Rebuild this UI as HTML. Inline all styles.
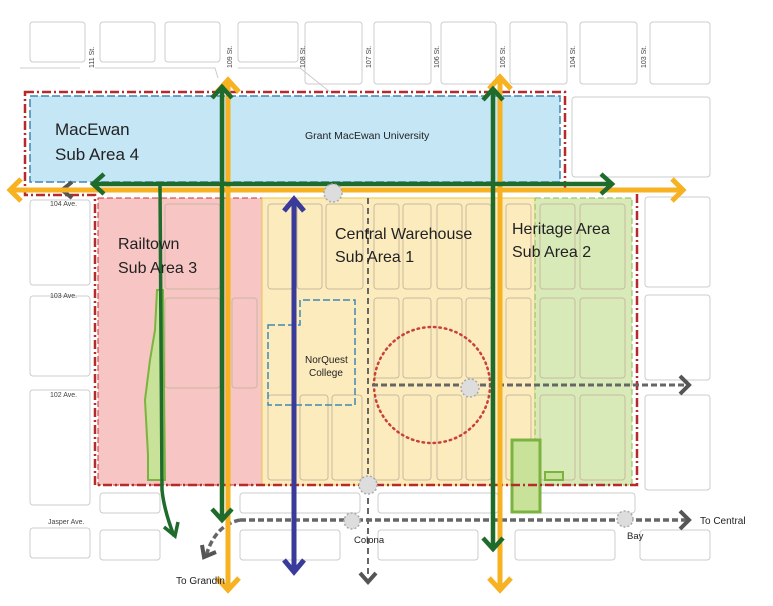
<!DOCTYPE html>
<html><head><meta charset="utf-8"><style>
html,body{margin:0;padding:0;background:#fff;}
svg{display:block;font-family:"Liberation Sans",sans-serif;}
</style></head><body>
<svg width="773" height="606" viewBox="0 0 773 606" xmlns="http://www.w3.org/2000/svg">
<g fill="none" stroke="#ccc" stroke-width="1">
<path d="M20,68 L80,68 M95,68 L215,68 L218,78 M238,68 L300,68 L330,92"/>
<rect x="30" y="22" width="55" height="40" rx="3"/>
<rect x="100" y="22" width="55" height="40" rx="3"/>
<rect x="165" y="22" width="55" height="40" rx="3"/>
<rect x="238" y="22" width="60" height="40" rx="3"/>
<rect x="305" y="22" width="57" height="62" rx="3"/>
<rect x="374" y="22" width="57" height="62" rx="3"/>
<rect x="441" y="22" width="55" height="62" rx="3"/>
<rect x="510" y="22" width="57" height="62" rx="3"/>
<rect x="580" y="22" width="57" height="62" rx="3"/>
<rect x="650" y="22" width="60" height="62" rx="3"/>
<rect x="572" y="97" width="138" height="80" rx="3"/>
<rect x="645" y="197" width="65" height="90" rx="3"/>
<rect x="645" y="295" width="65" height="85" rx="3"/>
<rect x="645" y="395" width="65" height="95" rx="3"/>
<rect x="30" y="200" width="60" height="85" rx="3"/>
<rect x="30" y="296" width="60" height="80" rx="3"/>
<rect x="30" y="390" width="60" height="115" rx="3"/>
<rect x="30" y="528" width="60" height="30" rx="3"/>
<rect x="100" y="493" width="60" height="20" rx="3"/>
<rect x="100" y="530" width="60" height="30" rx="3"/>
<rect x="240" y="493" width="120" height="20" rx="3"/>
<rect x="240" y="530" width="100" height="30" rx="3"/>
<rect x="378" y="493" width="120" height="20" rx="3"/>
<rect x="378" y="530" width="100" height="30" rx="3"/>
<rect x="515" y="493" width="120" height="20" rx="3"/>
<rect x="515" y="530" width="100" height="30" rx="3"/>
<rect x="640" y="530" width="70" height="30" rx="3"/>
</g>
<g font-size="7" fill="#444">
<text transform="translate(94,68) rotate(-90)">111 St.</text>
<text transform="translate(232,68) rotate(-90)">109 St.</text>
<text transform="translate(305,68) rotate(-90)">108 St.</text>
<text transform="translate(371,68) rotate(-90)">107 St.</text>
<text transform="translate(439,68) rotate(-90)">106 St.</text>
<text transform="translate(505,68) rotate(-90)">105 St.</text>
<text transform="translate(575,68) rotate(-90)">104 St.</text>
<text transform="translate(646,68) rotate(-90)">103 St.</text>
<text x="50" y="206">104 Ave.</text>
<text x="50" y="298">103 Ave.</text>
<text x="50" y="397">102 Ave.</text>
<text x="48" y="524">Jasper Ave.</text>
</g>
<path d="M30,96 L560,96 L560,182 L30,182 Z" fill="#c5e6f5" stroke="#3f86b4" stroke-width="1.5" stroke-dasharray="8,3"/>
<rect x="98" y="198" width="164" height="287" fill="#f7c5c3" stroke="#c33" stroke-width="1" stroke-dasharray="6,3"/>
<rect x="262" y="198" width="273" height="287" fill="#fcecbd" stroke="#e8c84a" stroke-width="1"/>
<rect x="535" y="198" width="97" height="287" fill="#d9eab9" stroke="#8aba55" stroke-width="1" stroke-dasharray="6,3"/>
<g fill="none" stroke="#c9b9a0" stroke-width="1">
<rect x="268" y="204" width="25" height="85" rx="3"/><rect x="297" y="204" width="25" height="85" rx="3"/><rect x="326" y="204" width="37" height="85" rx="3"/>
<rect x="374" y="204" width="25" height="85" rx="3"/><rect x="403" y="204" width="28" height="85" rx="3"/><rect x="437" y="204" width="25" height="85" rx="3"/><rect x="466" y="204" width="25" height="85" rx="3"/><rect x="506" y="204" width="25" height="85" rx="3"/>
<rect x="374" y="298" width="25" height="80" rx="3"/><rect x="403" y="298" width="28" height="80" rx="3"/><rect x="437" y="298" width="25" height="80" rx="3"/><rect x="466" y="298" width="25" height="80" rx="3"/><rect x="506" y="298" width="25" height="80" rx="3"/>
<rect x="268" y="395" width="28" height="85" rx="3"/><rect x="300" y="395" width="28" height="85" rx="3"/><rect x="332" y="395" width="30" height="85" rx="3"/>
<rect x="374" y="395" width="25" height="85" rx="3"/><rect x="403" y="395" width="28" height="85" rx="3"/><rect x="437" y="395" width="25" height="85" rx="3"/><rect x="466" y="395" width="25" height="85" rx="3"/><rect x="506" y="395" width="25" height="85" rx="3"/>
<rect x="540" y="204" width="35" height="85" rx="3"/><rect x="580" y="204" width="45" height="85" rx="3"/>
<rect x="540" y="298" width="35" height="80" rx="3"/><rect x="580" y="298" width="45" height="80" rx="3"/>
<rect x="540" y="395" width="35" height="85" rx="3"/><rect x="580" y="395" width="45" height="85" rx="3"/>
<rect x="165" y="204" width="55" height="85" rx="3"/><rect x="165" y="298" width="55" height="90" rx="3"/><rect x="232" y="298" width="25" height="90" rx="3"/>
</g>
<rect x="512" y="440" width="28" height="72" fill="#c9e29a" stroke="#7bb340" stroke-width="3"/>
<rect x="545" y="472" width="18" height="8" fill="#c9e29a" stroke="#7bb340" stroke-width="2"/>
<path d="M157,290 L163,290 L165,480 L148,480 L148,455 L145,400 L150,360 L155,330 Z" fill="#c9e29a" stroke="#7bb340" stroke-width="2"/>
<path d="M268,325 L300,325 L300,300 L355,300 L355,405 L268,405 Z" fill="none" stroke="#3f86b4" stroke-width="1.5" stroke-dasharray="7,3"/>
<path d="M25,92 L565,92 L565,190 L637,190 L637,485 L95,485 L95,195 L25,195 Z" fill="none" stroke="#b52a2a" stroke-width="2.5" stroke-dasharray="9,3,2,3"/>
<circle cx="432" cy="385" r="58" fill="none" stroke="#c9413a" stroke-width="2.5" stroke-dasharray="1.5,4" stroke-linecap="round"/>
<!-- gray dashed transit -->
<g fill="none" stroke="#666" stroke-width="3.5" stroke-dasharray="6,3">
<path d="M368,198 L368,578" stroke-width="2" stroke-dasharray="6,4"/>
<path d="M372,385 L688,385" stroke-width="3"/>
<path d="M240,520 L688,520"/>
<path d="M240,520 Q215,525 206,556"/>
<path d="M95,190 L64,190"/>
</g>
<g fill="none" stroke="#555" stroke-width="4" stroke-linejoin="miter">
<polyline points="72,182 62,190 72,198"/>
<polyline points="680,376 689,385 680,394"/>
<polyline points="680,511 689,520 680,529"/>
<polyline points="360,573 368,582 376,573"/>
<polyline points="202,545 204,557 216,552"/>
</g>
<!-- orange -->
<g fill="none" stroke="#f6b221" stroke-width="5">
<path d="M10,190 L683,190"/>
<path d="M228,80 L228,590"/>
<path d="M500,77 L500,590"/>
<polyline points="21,179 10,190 21,201"/>
<polyline points="672,179 683,190 672,201"/>
<polyline points="217,92 228,80 239,92"/>
<polyline points="217,578 228,590 239,578"/>
<polyline points="489,89 500,77 511,89"/>
<polyline points="489,578 500,590 511,578"/>
</g>
<!-- green -->
<g fill="none" stroke="#1e6b2c" stroke-width="4.5">
<path d="M93,184 L612,184"/>
<path d="M222,87 L222,520"/>
<path d="M493,89 L493,549"/>
<path d="M160,185 L162,490 Q164,510 174,536" stroke-width="3.5"/>
<polyline points="104,174 93,184 104,194"/>
<polyline points="601,174 612,184 601,194"/>
<polyline points="212,98 222,87 232,98"/>
<polyline points="212,509 222,520 232,509"/>
<polyline points="483,100 493,89 503,100"/>
<polyline points="483,538 493,549 503,538"/>
<polyline points="164,527 175,536 178,522" stroke-width="3.5"/>
</g>
<!-- blue -->
<g fill="none" stroke="#3a3a9a" stroke-width="5">
<path d="M294,199 L294,572"/>
<polyline points="284,211 294,199 304,211"/>
<polyline points="284,560 294,572 304,560"/>
</g>
<g fill="#ddd" stroke="#aaa" stroke-width="1.5" stroke-dasharray="2,2">
<circle cx="333" cy="193" r="9"/><circle cx="470" cy="388" r="9"/><circle cx="368" cy="485" r="9"/><circle cx="352" cy="521" r="8"/><circle cx="625" cy="519" r="8"/>
</g>
<g fill="#222">
<text x="55" y="135" font-size="17">MacEwan</text>
<text x="55" y="160" font-size="17">Sub Area 4</text>
<text x="305" y="139" font-size="10.5">Grant MacEwan University</text>
<text x="118" y="249" font-size="16">Railtown</text>
<text x="118" y="273" font-size="16">Sub Area 3</text>
<text x="335" y="239" font-size="16">Central Warehouse</text>
<text x="335" y="262" font-size="16">Sub Area 1</text>
<text x="512" y="234" font-size="16">Heritage Area</text>
<text x="512" y="257" font-size="16">Sub Area 2</text>
<text x="305" y="363" font-size="10">NorQuest</text>
<text x="309" y="376" font-size="10">College</text>
<text x="354" y="543" font-size="9.5">Colona</text>
<text x="627" y="539" font-size="9.5">Bay</text>
<text x="700" y="524" font-size="10">To Central</text>
<text x="176" y="584" font-size="10">To Grandin</text>
</g>
</svg>
</body></html>
